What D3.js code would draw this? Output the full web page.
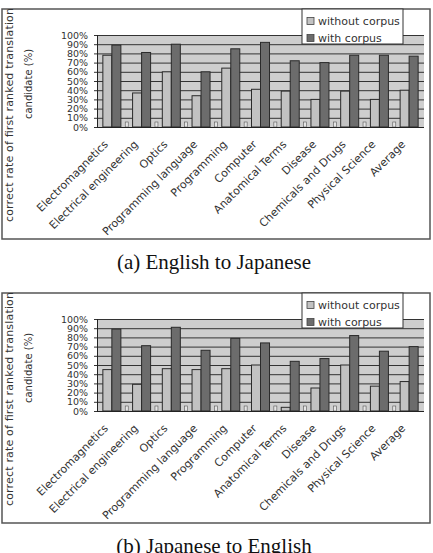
<!DOCTYPE html>
<html>
<head>
<meta charset="utf-8">
<script src="https://cdn.jsdelivr.net/npm/d3@7"></script>
<style>
  body { margin: 0; background: #fff; }
  svg { display: block; }
</style>
</head>
<body>
<svg id="chart"></svg>
<script>
// categories and values (percent)
var categories = ["Electromagnetics", "Electrical engineering", "Optics", "Programming language",
  "Programming", "Computer", "Anatomical Terms", "Disease", "Chemicals and Drugs",
  "Physical Science", "Average"];
var seriesNames = ["without corpus", "with corpus"];

var enJaWithout = [78, 37, 60, 34, 64, 41, 39, 30, 39, 30, 40];
var enJaWith    = [89, 81, 90, 60, 85, 92, 72, 70, 78, 78, 77];

var jaEnWithout = [45, 29, 46, 45, 46, 50, 4, 25, 50, 27, 32];
var jaEnWith    = [89, 71, 91, 66, 79, 74, 54, 57, 82, 65, 70];

var yTicks = [0, 10, 20, 30, 40, 50, 60, 70, 80, 90, 100];
var captions = ["(a) English to Japanese", "(b) Japanese to English"];

var width = 433, height = 553;
var colors = ["#c2c2c2", "#6c6c6c"];

var svg = d3.select("#chart")
    .attr("width", width)
    .attr("height", height);

var x0 = d3.scaleBand()
    .domain(categories)
    .range([97, 424]);

var x1 = d3.scaleBand()
    .domain(seriesNames)
    .range([0, x0.bandwidth()])
    .paddingOuter(0.65);

var y = d3.scaleLinear()
    .domain([0, 100])
    .range([127, 35]);

function drawPanel(g, without, withC, caption) {
  // outer frame
  g.append("rect")
    .attr("x", 2).attr("y", 9)
    .attr("width", 428).attr("height", 230)
    .attr("fill", "none")
    .attr("stroke", "#555")
    .attr("stroke-width", 1.5);

  // plot background
  g.append("rect")
    .attr("x", x0.range()[0]).attr("y", y(100))
    .attr("width", x0.range()[1] - x0.range()[0])
    .attr("height", y(0) - y(100))
    .attr("fill", "#cecece");

  // grid lines
  g.selectAll(".grid")
    .data(yTicks)
    .enter()
    .append("line")
    .attr("x1", x0.range()[0] - 3)
    .attr("x2", x0.range()[1])
    .attr("y1", function(d) { return y(d) + 0.5; })
    .attr("y2", function(d) { return y(d) + 0.5; })
    .attr("stroke", "#333")
    .attr("stroke-width", 1);

  // bars
  var rows = categories.map(function(c, i) {
    return { cat: c, vals: [without[i], withC[i]] };
  });
  var groups = g.selectAll(".grp")
    .data(rows)
    .enter()
    .append("g")
    .attr("transform", function(d) { return "translate(" + x0(d.cat) + ",0)"; });

  groups.selectAll("rect")
    .data(function(d) {
      return d.vals.map(function(v, k) { return { s: seriesNames[k], v: v, k: k }; });
    })
    .enter()
    .append("rect")
    .attr("x", function(d) { return x1(d.s); })
    .attr("y", function(d) { return y(d.v); })
    .attr("width", x1.bandwidth())
    .attr("height", function(d) { return y(0) - y(d.v); })
    .attr("fill", function(d) { return colors[d.k]; })
    .attr("stroke", "#2a2a2a")
    .attr("stroke-width", 1);

  // small ticks at category boundaries
  g.selectAll(".xt")
    .data(categories.slice(1))
    .enter()
    .append("rect")
    .attr("x", function(d) { return x0(d) - 1.5; })
    .attr("y", y(0) - 5)
    .attr("width", 3)
    .attr("height", 5)
    .attr("fill", "#e6e6e6")
    .attr("stroke", "#555")
    .attr("stroke-width", 0.6);

  // axis lines
  g.append("line")
    .attr("x1", x0.range()[0] + 0.5).attr("x2", x0.range()[0] + 0.5)
    .attr("y1", y(100)).attr("y2", y(0) + 1)
    .attr("stroke", "#222");
  g.append("line")
    .attr("x1", x0.range()[0]).attr("x2", x0.range()[1])
    .attr("y1", y(0) + 0.5).attr("y2", y(0) + 0.5)
    .attr("stroke", "#222");

  // y tick labels (tightly packed, as in the original)
  g.selectAll(".yl")
    .data(yTicks)
    .enter()
    .append("text")
    .attr("transform", function(d) { return "translate(88," + (y(d) + 3.5) + ") scale(1,0.9)"; })
    .attr("text-anchor", "end")
    .attr("font-family", "DejaVu Sans, sans-serif")
    .attr("font-size", "9.5px")
    .attr("fill", "#333")
    .text(function(d) { return d + "%"; });

  // x labels
  g.selectAll(".xl")
    .data(categories)
    .enter()
    .append("text")
    .attr("transform", function(d) {
      var cx = x0(d) + x0.bandwidth() / 2 - 3;
      return "translate(" + cx + "," + (y(0) + 18) + ") rotate(-45)";
    })
    .attr("text-anchor", "end")
    .attr("font-family", "DejaVu Sans, sans-serif")
    .attr("font-size", "11px")
    .attr("fill", "#333")
    .text(function(d) { return d; });

  // y axis title, two lines
  g.append("text")
    .attr("transform", "translate(13,115) rotate(-90)")
    .attr("text-anchor", "middle")
    .attr("font-family", "DejaVu Sans, sans-serif")
    .attr("font-size", "11px")
    .attr("textLength", 214)
    .attr("lengthAdjust", "spacing")
    .attr("fill", "#333")
    .text("correct rate of first ranked translation");
  g.append("text")
    .attr("transform", "translate(32,84) rotate(-90)")
    .attr("text-anchor", "middle")
    .attr("font-family", "DejaVu Sans, sans-serif")
    .attr("font-size", "10px")
    .attr("fill", "#333")
    .text("candidate (%)");

  // legend
  var leg = g.append("g");
  leg.append("rect")
    .attr("x", 302).attr("y", 9)
    .attr("width", 101).attr("height", 35)
    .attr("fill", "#fff")
    .attr("stroke", "#333")
    .attr("stroke-width", 1);
  seriesNames.forEach(function(s, k) {
    leg.append("rect")
      .attr("x", 307).attr("y", 17.5 + k * 17)
      .attr("width", 7).attr("height", 7)
      .attr("fill", colors[k])
      .attr("stroke", "#444")
      .attr("stroke-width", 0.8);
    leg.append("text")
      .attr("x", 318).attr("y", 25 + k * 17)
      .attr("font-family", "DejaVu Sans, sans-serif")
      .attr("font-size", "11px")
      .attr("fill", "#333")
      .text(s);
  });

  // caption
  g.append("text")
    .attr("x", 214).attr("y", 269)
    .attr("text-anchor", "middle")
    .attr("font-family", "Liberation Serif, Times New Roman, serif")
    .attr("font-size", "21px")
    .attr("fill", "#111")
    .text(caption);
}

drawPanel(svg.append("g"), enJaWithout, enJaWith, captions[0]);
drawPanel(svg.append("g").attr("transform", "translate(0,284)"), jaEnWithout, jaEnWith, captions[1]);
</script>
</body>
</html>
